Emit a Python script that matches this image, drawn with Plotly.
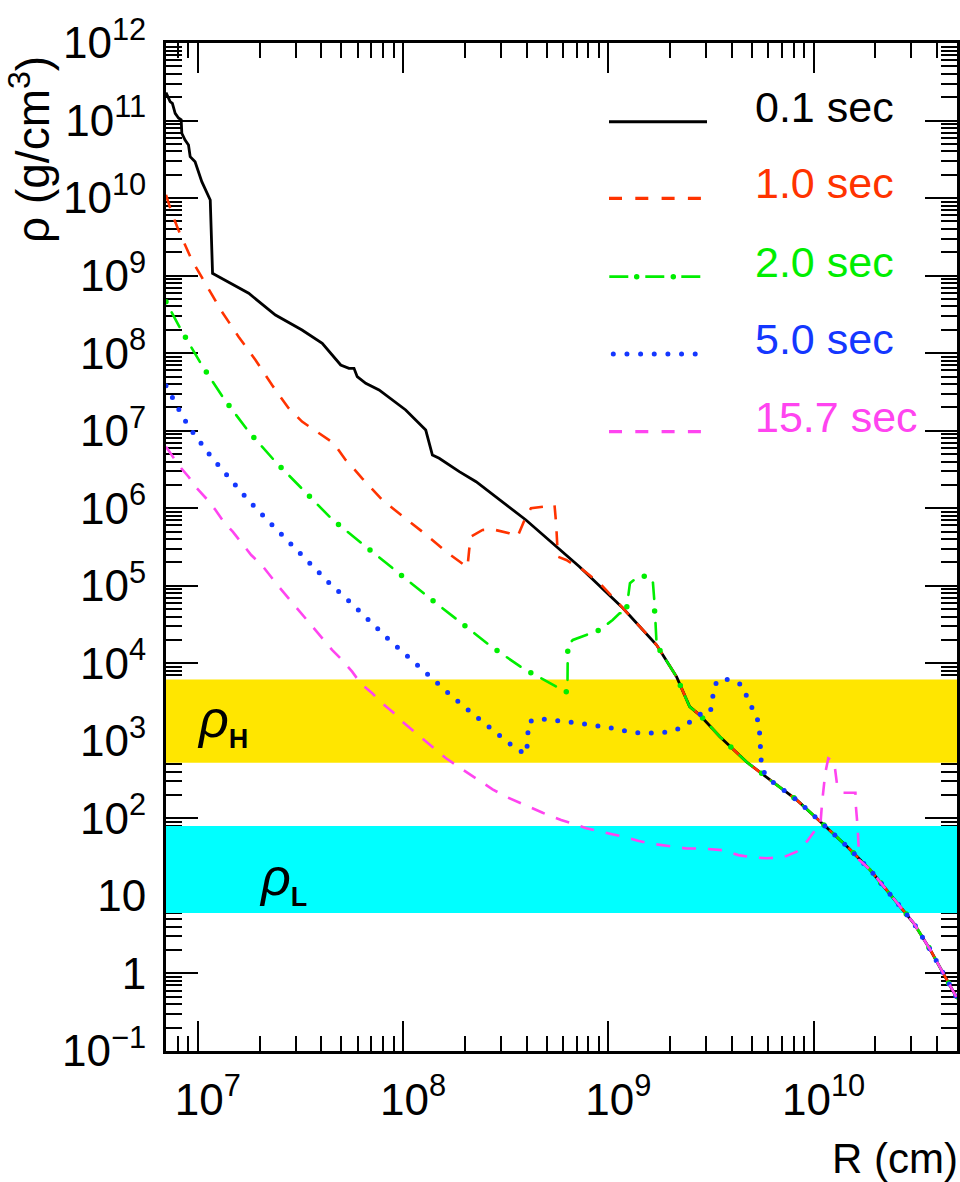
import plotly.graph_objects as go

# ---------------------------------------------------------------------------
# Axis limits
R_MIN, R_MAX = 7.0e6, 5.0e10          # cm
RHO_MIN, RHO_MAX = 1.0e-1, 1.0e12     # g/cm^3

# decade tick marks and their labels
R_ticks = [1e7, 1e8, 1e9, 1e10]
R_ticktext = ["10<sup>7</sup>", "10<sup>8</sup>", "10<sup>9</sup>", "10<sup>10</sup>"]
rho_ticks = [1e-1, 1e0, 1e1, 1e2, 1e3, 1e4, 1e5, 1e6, 1e7, 1e8, 1e9, 1e10, 1e11, 1e12]
rho_ticktext = ["10<sup>\u22121</sup>", "1", "10", "10<sup>2</sup>", "10<sup>3</sup>",
                "10<sup>4</sup>", "10<sup>5</sup>", "10<sup>6</sup>", "10<sup>7</sup>",
                "10<sup>8</sup>", "10<sup>9</sup>", "10<sup>10</sup>", "10<sup>11</sup>",
                "10<sup>12</sup>"]

# ---------------------------------------------------------------------------
# Density profiles rho(R).  Beyond the shock every epoch follows the same
# unperturbed envelope, stored once in tail_R / tail_rho.
tail_R = [1.18e9, 1.72e9, 2.15e9, 2.49e9, 2.79e9, 3.50e9, 4.72e9, 6.14e9,
          8.28e9, 1.08e10, 1.46e10, 1.89e10, 2.55e10, 3.08e10, 3.71e10,
          4.32e10, 5.0e10]
tail_rho = [5.13e4, 1.72e4, 6.71e3, 2.76e3, 2.15e3, 1.13e3, 533, 313,
            173, 90.6, 43.2, 21.6, 8.04, 4.44, 2.01, 0.955, 0.479]

# t = 0.1 s
R_t01 = [7.0e6, 7.33e6, 7.52e6, 7.76e6, 8.05e6, 8.30e6, 8.36e6, 8.67e6,
         9.01e6, 9.18e6, 9.70e6, 1.046e7, 1.15e7, 1.18e7, 1.22e7, 1.77e7,
         2.39e7, 3.22e7, 4.04e7, 4.44e7, 4.97e7, 5.45e7, 5.77e7, 5.98e7,
         6.58e7, 7.64e7, 1.03e8, 1.29e8, 1.39e8, 1.50e8, 1.88e8, 2.27e8,
         2.63e8, 3.97e8, 7.24e8]
rho_t01 = [2.3e11, 1.75e11, 1.67e11, 1.24e11, 1.08e11, 1.02e11, 6.84e10,
           5.61e10, 4.84e10, 3.42e10, 2.94e10, 1.63e10, 9.44e9, 1.07e9,
           1.02e9, 5.92e8, 3.10e8, 1.99e8, 1.34e8, 9.96e7, 7.03e7, 6.38e7,
           6.38e7, 4.97e7, 4.08e7, 3.35e7, 1.85e7, 1.02e7, 4.86e6, 4.41e6,
           2.96e6, 2.20e6, 1.63e6, 7.05e5, 1.76e5]

# t = 1.0 s
R_t10 = [7.0e6, 7.47e6, 8.05e6, 9.35e6, 1.03e7, 1.11e7, 1.31e7, 1.58e7,
         1.91e7, 2.30e7, 2.77e7, 3.22e7, 3.61e7, 4.19e7, 4.60e7, 5.25e7,
         5.65e7, 6.32e7, 7.92e7, 1.01e8, 1.27e8, 1.62e8, 2.06e8, 2.10e8,
         2.14e8, 2.44e8, 2.73e8, 3.29e8, 3.61e8, 3.97e8, 4.20e8, 4.89e8,
         5.47e8, 5.57e8, 5.68e8, 6.24e8, 7.52e8, 9.07e8, 1.05e9]
rho_t10 = [1.1e10, 6.37e9, 3.87e9, 1.59e9, 1.02e9, 7.19e8, 3.43e8, 1.63e8,
           8.17e7, 3.88e7, 1.95e7, 1.31e7, 1.07e7, 8.30e6, 6.89e6, 4.19e6,
           3.43e6, 2.43e6, 1.28e6, 7.64e5, 4.75e5, 2.75e5, 1.73e5, 2.90e5,
           4.30e5, 5.24e5, 5.35e5, 4.75e5, 4.30e5, 7.78e5, 9.98e5, 1.05e6,
           1.10e6, 6.40e5, 2.37e5, 2.15e5, 1.60e5, 1.08e5, 7.23e4]

# t = 2.0 s
R_t20 = [7.0e6, 7.41e6, 8.21e6, 9.35e6, 1.046e7, 1.335e7, 1.77e7, 2.39e7,
         3.28e7, 4.51e7, 7.41e7, 1.04e8, 1.45e8, 1.89e8, 2.63e8, 3.83e8,
         6.24e8, 6.33e8, 6.35e8, 6.72e8, 9.07e8, 1.05e9, 1.135e9, 1.22e9,
         1.275e9, 1.395e9, 1.56e9, 1.65e9, 1.68e9]
rho_t20 = [4.6e8, 3.43e8, 2.09e8, 1.16e8, 7.03e7, 2.62e7, 9.71e6, 3.98e6,
           1.68e6, 7.19e5, 2.49e5, 1.19e5, 5.94e4, 3.44e4, 1.72e4, 8.63e3,
           4.27e3, 6.10e3, 1.72e4, 2.00e4, 2.69e4, 3.62e4, 4.42e4, 4.42e4,
           1.08e5, 1.31e5, 1.34e5, 1.10e5, 5.94e4]

# t = 5.0 s
R_t50 = [7.0e6, 7.38e6, 8.02e6, 8.71e6, 9.53e6, 1.15e7, 1.42e7, 1.75e7,
         2.20e7, 2.75e7, 3.44e7, 4.35e7, 5.45e7, 6.82e7, 8.64e7, 1.09e8,
         1.38e8, 1.74e8, 2.21e8, 2.82e8, 3.61e8, 4.00e8, 4.02e8, 4.09e8,
         4.55e8, 5.51e8, 6.40e8, 7.38e8, 8.57e8, 9.89e8, 1.145e9, 1.32e9,
         1.53e9, 1.78e9, 1.92e9, 2.21e9, 2.49e9, 2.79e9, 3.07e9, 3.22e9,
         3.24e9, 3.41e9, 3.88e9, 4.45e9, 4.79e9, 5.13e9, 5.42e9, 5.48e9,
         5.55e9, 5.59e9]
rho_t50 = [3.8e7, 2.88e7, 1.95e7, 1.33e7, 9.25e6, 4.77e6, 2.48e6, 1.30e6,
           6.90e5, 3.78e5, 2.09e5, 1.10e5, 6.36e4, 3.51e4, 1.96e4, 1.13e4,
           6.34e3, 3.71e3, 2.18e3, 1.29e3, 762, 682, 1.09e3, 1.75e3,
           1.93e3, 1.86e3, 1.75e3, 1.67e3, 1.59e3, 1.50e3, 1.38e3, 1.29e3,
           1.25e3, 1.25e3, 1.29e3, 1.44e3, 1.74e3, 2.20e3, 2.20e3, 2.81e3,
           4.53e3, 6.10e3, 6.22e3, 5.30e3, 3.57e3, 2.45e3, 1.70e3, 1.08e3,
           676, 430]

# t = 15.7 s
R_t157 = [7.0e6, 8.05e6, 9.01e6, 9.89e6, 1.11e7, 1.22e7, 1.335e7, 1.48e7,
          1.64e7, 1.82e7, 2.05e7, 2.26e7, 2.48e7, 2.77e7, 3.10e7, 3.41e7,
          3.81e7, 4.51e7, 5.05e7, 5.65e7, 6.21e7, 7.08e7, 7.92e7, 8.87e7,
          9.92e7, 1.11e8, 1.29e8, 1.62e8, 1.88e8, 2.14e8, 2.44e8, 2.73e8,
          3.18e8, 3.61e8, 4.20e8, 4.79e8, 5.89e8, 6.84e8, 7.81e8, 9.07e8,
          1.046e9, 1.22e9, 1.395e9, 1.62e9, 2.05e9, 2.40e9, 2.79e9, 3.24e9,
          3.63e9, 4.30e9, 4.99e9, 5.92e9, 7.13e9, 8.28e9, 9.27e9, 1.02e10,
          1.08e10, 1.10e10, 1.12e10, 1.14e10, 1.18e10, 1.26e10, 1.30e10,
          1.40e10, 1.60e10, 1.61e10, 1.64e10, 1.66e10, 1.67e10]
rho_t157 = [6.2e6, 3.61e6, 2.55e6, 1.81e6, 1.30e6, 9.49e5, 6.70e5, 4.98e5,
            3.53e5, 2.49e5, 1.85e5, 1.31e5, 9.73e4, 6.89e4, 4.87e4, 3.62e4,
            2.56e4, 1.49e4, 1.10e4, 7.80e3, 5.52e3, 4.10e3, 3.05e3, 2.38e3,
            1.77e3, 1.38e3, 976, 596, 456, 363, 289, 237,
            190, 163, 136, 118, 95.3, 84.7, 74.5, 68.7,
            62.3, 57.0, 51.5, 47.2, 43.3, 40.9, 41.0, 39.9,
            38.9, 33.6, 31.5, 30.6, 31.5, 37.2, 50.1, 70.8,
            82.8, 157, 232, 382, 596, 538, 282,
            214, 214, 138, 78.1, 43.2, 29.1]

labels = ["0.1 sec", "1.0 sec", "2.0 sec", "5.0 sec", "15.7 sec"]
colors = ["#000000", "#ff3300", "#00ee00", "#1437ff", "#ff44f0"]

# Resonance density bands (high and low MSW resonances)
rho_H_band = [5.2e2, 6.2e3]
rho_L_band = [6.0, 8.0e1]
band_colors = ["#ffe600", "#00ffff"]

# ---------------------------------------------------------------------------
profiles = [
    (R_t01 + tail_R, rho_t01 + tail_rho),
    (R_t10 + tail_R, rho_t10 + tail_rho),
    (R_t20 + tail_R[1:], rho_t20 + tail_rho[1:]),
    (R_t50 + tail_R[7:], rho_t50 + tail_rho[7:]),
    (R_t157 + tail_R[11:], rho_t157 + tail_rho[11:]),
]

# line styles: one or more stroke layers per curve
line_styles = [
    [dict(width=2.8, dash="solid")],
    [dict(width=2.6, dash="14px,12px")],
    [dict(width=2.6, dash="0px,12px,16.5px,12px"),
     dict(width=5.5, dash="0px,40.5px")],
    [dict(width=5.0, dash="0px,13.5px")],
    [dict(width=2.6, dash="14px,12px")],
]

FONT = "Liberation Sans, Arial, Helvetica, sans-serif"

fig = go.Figure()

# shaded resonance bands, spanning the full radial range
for band, col in zip([rho_H_band, rho_L_band], band_colors):
    fig.add_trace(go.Scatter(
        x=[R_MIN, R_MAX, R_MAX, R_MIN], y=[band[0], band[0], band[1], band[1]],
        mode="lines", fill="toself", fillcolor=col, line=dict(width=0),
        hoverinfo="skip", showlegend=False))

for (R, rho), col, styles, lab in zip(profiles, colors, line_styles, labels):
    for st in styles:
        fig.add_trace(go.Scatter(
            x=R, y=rho, mode="lines", name=lab, showlegend=False,
            line=dict(color=col, width=st["width"], dash=st["dash"])))

# ---------------------------------------------------------------------------
# layout geometry (pixels)
W, H = 960, 1182
ML, MR, MT, MB = 166, 3, 43, 131
PW, PH = W - ML - MR, H - MT - MB


def px2x(px):
    return (px - ML) / PW


def py2y(py):
    return (H - MB - py) / PH


minor_vals = [m * 10.0 ** e for e in range(-2, 13) for m in range(2, 10)]

axis_common = dict(
    type="log", showgrid=False, zeroline=False, automargin=False,
    showline=True, linewidth=3, linecolor="black", mirror="ticks",
    ticks="inside", tickcolor="black", tickwidth=1.5,
    tickmode="array",
    tickfont=dict(family=FONT, size=44, color="black"),
    layer="below traces",
)

fig.update_xaxes(
    **axis_common, range=[6.84510, 10.69897], ticklen=30,
    tickvals=R_ticks, ticktext=R_ticktext,
    ticklabelshift=10, ticklabelstandoff=8,
    minor=dict(tickmode="array", tickvals=minor_vals, ticks="inside",
               ticklen=15, tickcolor="black", tickwidth=1.5))
fig.update_yaxes(
    **axis_common, range=[-1, 12], ticklen=32, ticklabelstandoff=8,
    tickvals=rho_ticks, ticktext=rho_ticktext,
    minor=dict(tickmode="array", tickvals=minor_vals, ticks="inside",
               ticklen=16, tickcolor="black", tickwidth=1.5))

# legend drawn by hand: sample stroke + coloured label
leg_line_y = [121.7, 198.3, 276.7, 354.0, 431.7]
leg_samples = [
    [(609, 707, dict(width=3, dash="solid"))],
    [(609, 702, dict(width=3.2, dash="13px,13.3px"))],
    [(609.3, 702, dict(width=2.8, dash="19px,17px")),
     (636.7, 674.5, dict(width=5.5, dash="0px,36.6px"))],
    [(613.3, 697, dict(width=5.0, dash="0px,13.65px"))],
    [(609, 702, dict(width=3.2, dash="13px,13.3px"))],
]
shapes = []
annotations = []
for ly, col, lab, samples in zip(leg_line_y, colors, labels, leg_samples):
    for x0, x1, st in samples:
        shapes.append(dict(type="line", xref="paper", yref="paper",
                           x0=px2x(x0), x1=px2x(x1), y0=py2y(ly), y1=py2y(ly),
                           line=dict(color=col, width=st["width"], dash=st["dash"])))
    annotations.append(dict(text=lab, xref="paper", yref="paper",
                            x=px2x(753), y=py2y(ly - 15), xanchor="left",
                            yanchor="middle", showarrow=False,
                            font=dict(family=FONT, size=43, color=col)))

# band labels
for sub, xpx, ypx in [("H", 195, 722), ("L", 257, 880)]:
    annotations.append(dict(
        text="<i>ρ</i><sub><span style='font-size:27px'><b>%s</b></span></sub>" % sub,
        xref="paper", yref="paper", x=px2x(xpx), y=py2y(ypx),
        xanchor="left", yanchor="middle", showarrow=False,
        font=dict(family=FONT, size=52, color="black")))

# axis titles
annotations.append(dict(text="ρ (g/cm<sup>3</sup>)", xref="paper", yref="paper",
                        x=px2x(30), y=py2y(150), xanchor="center", yanchor="middle",
                        textangle=-90, showarrow=False,
                        font=dict(family=FONT, size=46, color="black")))
annotations.append(dict(text="R (cm)", xref="paper", yref="paper",
                        x=px2x(960), y=py2y(1158), xanchor="right",
                        yanchor="middle", showarrow=False,
                        font=dict(family=FONT, size=42, color="black")))

fig.update_layout(
    width=W, height=H, autosize=False,
    margin=dict(l=ML, r=MR, t=MT, b=MB, autoexpand=False),
    paper_bgcolor="white", plot_bgcolor="white",
    showlegend=False, shapes=shapes, annotations=annotations,
)

# zero-length dash segments become round dots with round line caps
round_caps = """
var gd = document.getElementById('{plot_id}');
function roundDots() {
  gd.querySelectorAll('path').forEach(function (p) {
    var d = (p.style.strokeDasharray || '').replace(/\\s/g, '');
    if (d.indexOf('0px,') === 0 || d.indexOf('0,') === 0) {
      p.style.strokeLinecap = 'round';
    }
  });
}
roundDots();
gd.on('plotly_afterplot', roundDots);
"""

fig.write_html("out.html", config={"displayModeBar": False}, post_script=round_caps)
